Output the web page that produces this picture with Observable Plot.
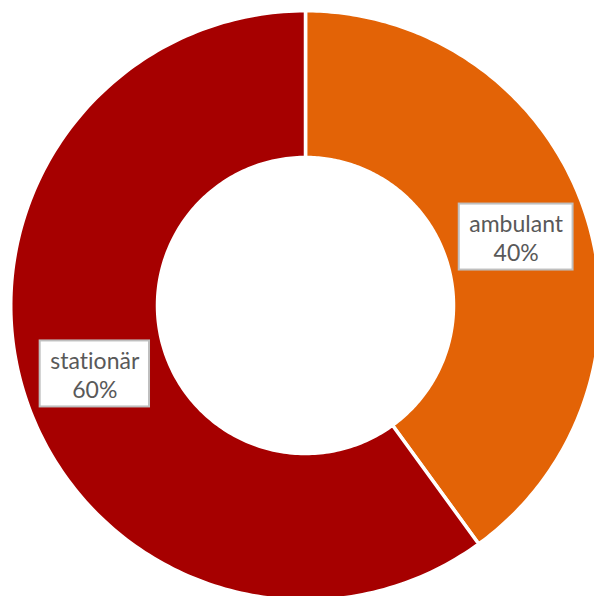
<!DOCTYPE html>
<html>
<head>
<meta charset="utf-8">
<script src="https://cdn.jsdelivr.net/npm/d3@7"></script>
<script src="https://cdn.jsdelivr.net/npm/@observablehq/plot@0.6"></script>
<style>
  html, body { margin: 0; padding: 0; background: #fff; }
  #chart { width: 594px; height: 596px; overflow: hidden; }
  #chart text { font-variant-ligatures: none; font-feature-settings: "liga" 0; }
</style>
</head>
<body>
<div id="chart"></div>
<script>
const categories = ["ambulant", "stationär"];
const values = [40, 60];
const colors = ["#E36306", "#A60000"];

const W = 594, H = 596;
const cx = 305, cy = 305, R = 293;       // pixel geometry of the ring
const rOuter = 1.006, rInner = 148 / R;  // in data units (1 = R px)
const fontSize = 23, fontFamily = "Lato, sans-serif";

const data = categories.map((c, i) => ({category: c, value: values[i], color: colors[i]}));
const total = d3.sum(values);
const arcs = d3.pie().sort(null).value(d => d.value)(data);

// polygon outline of each ring segment
const pts = [];
for (const a of arcs) {
  const n = 200;
  for (let k = 0; k <= n; k++) {
    const t = a.startAngle + (a.endAngle - a.startAngle) * k / n;
    pts.push({category: a.data.category, x: rOuter * Math.sin(t), y: rOuter * Math.cos(t)});
  }
  for (let k = n; k >= 0; k--) {
    const t = a.startAngle + (a.endAngle - a.startAngle) * k / n;
    pts.push({category: a.data.category, x: rInner * Math.sin(t), y: rInner * Math.cos(t)});
  }
}

// labels at arc centroids
const ctx = document.createElement("canvas").getContext("2d");
ctx.font = `${fontSize}px ${fontFamily}`;
const rMid = (1 + 150 / R) / 2;
const labels = arcs.map(a => {
  const m = (a.startAngle + a.endAngle) / 2;
  const pct = Math.round(a.data.value / total * 100) + "%";
  const w = Math.max(ctx.measureText(a.data.category).width, ctx.measureText(pct).width);
  const hw = (w / 2 + 10) / R, hh = 33 / R;
  const x = rMid * Math.sin(m), y = rMid * Math.cos(m);
  return {text: a.data.category + "\n" + pct, x, y, x1: x - hw, x2: x + hw, y1: y - hh, y2: y + hh};
});

const plot = Plot.plot({
  width: W,
  height: H,
  margin: 0,
  x: {domain: [(0 - cx) / R, (W - cx) / R], axis: null},
  y: {domain: [(cy - H) / R, cy / R], axis: null},
  color: {domain: categories, range: colors},
  style: {background: "#fff"},
  marks: [
    Plot.line(pts, {x: "x", y: "y", z: "category", fill: "category", stroke: "white", strokeWidth: 3.5, curve: "linear-closed"}),
    Plot.rect(labels, {x1: "x1", x2: "x2", y1: "y1", y2: "y2", fill: "white", stroke: "#BFBFBF", strokeWidth: 2}),
    Plot.text(labels, {x: "x", y: "y", text: "text", fill: "#595959", fontSize, fontFamily, lineHeight: 1.27})
  ]
});
document.getElementById("chart").appendChild(plot);
</script>
</body>
</html>
